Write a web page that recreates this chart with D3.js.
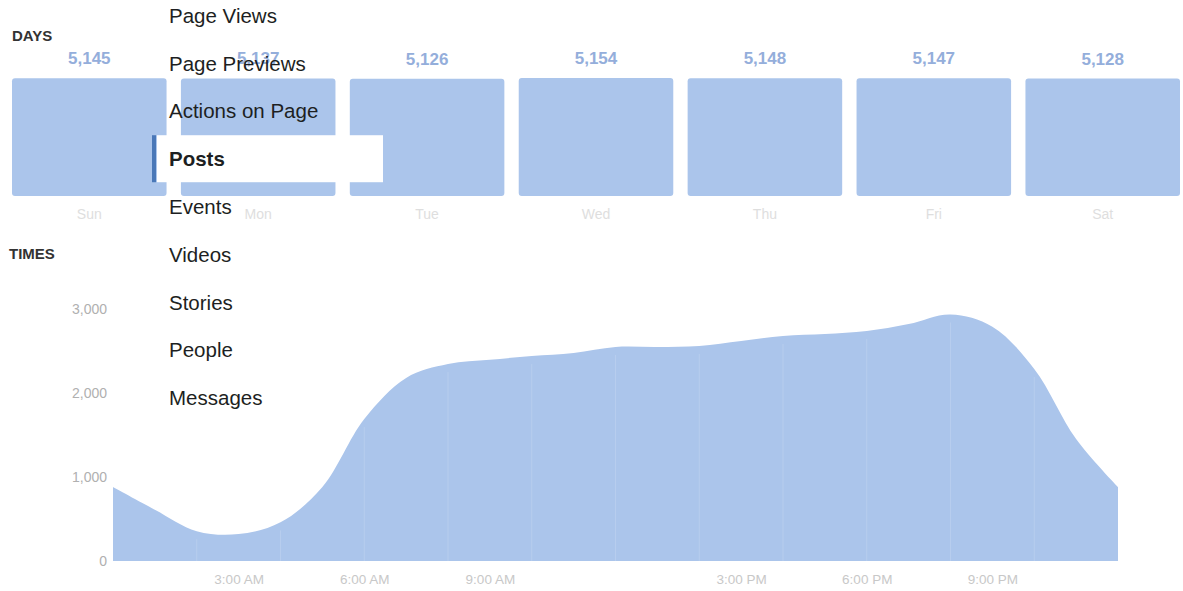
<!DOCTYPE html>
<html>
<head>
<meta charset="utf-8">
<script src="https://cdn.jsdelivr.net/npm/d3@7"></script>
<style>
  html, body { margin: 0; padding: 0; background: #fff; }
  svg { display: block; font-family: "Liberation Sans", Arial, Helvetica, sans-serif; }
</style>
</head>
<body>
<svg id="chart" width="1183" height="591"></svg>
<script>
// ---- data ----
const days = ["Sun", "Mon", "Tue", "Wed", "Thu", "Fri", "Sat"];
const dayValues = [5145, 5137, 5126, 5154, 5148, 5147, 5128];

const hours = [0,1,2,3,4,5,6,7,8,9,10,11,12,13,14,15,16,17,18,19,20,21,22,23,24];
const hourValues = [880, 610, 355, 320, 460, 880, 1690, 2180, 2345, 2395, 2440, 2476, 2548, 2548, 2560, 2619, 2679, 2702, 2738, 2821, 2935, 2790, 2286, 1452, 880];

const yTicks = [0, 1000, 2000, 3000];
const xTickHours = [3, 6, 9, 15, 18, 21];
const xTickLabels = ["3:00 AM", "6:00 AM", "9:00 AM", "3:00 PM", "6:00 PM", "9:00 PM"];

const menuItems = ["Page Views", "Page Previews", "Actions on Page", "Posts", "Events", "Videos", "Stories", "People", "Messages"];
const selectedItem = "Posts";

// ---- drawing ----
const svg = d3.select("#chart");
const barColor = "#abc5eb";
const areaColor = "#abc5eb";

// Section titles
svg.append("text").attr("x", 12).attr("y", 41).attr("font-size", 15).attr("font-weight", "bold")
  .attr("fill", "#333").text("DAYS");
svg.append("text").attr("x", 9).attr("y", 259).attr("font-size", 15).attr("font-weight", "bold")
  .attr("fill", "#333").text("TIMES");

// Days bars
const xDay = d3.scaleBand().domain(days).range([12, 1180]).paddingInner(0.085).paddingOuter(0);
const yDay = d3.scaleLinear().domain([0, d3.max(dayValues)]).range([196, 78]);

const dayG = svg.append("g");
dayG.selectAll("rect").data(days).join("rect")
  .attr("x", d => xDay(d))
  .attr("y", (d, i) => yDay(dayValues[i]))
  .attr("width", xDay.bandwidth())
  .attr("height", (d, i) => yDay(0) - yDay(dayValues[i]))
  .attr("rx", 3)
  .attr("fill", barColor);

dayG.selectAll("text.val").data(days).join("text")
  .attr("class", "val")
  .attr("x", d => xDay(d) + xDay.bandwidth() / 2)
  .attr("y", (d, i) => yDay(dayValues[i]) - 14)
  .attr("text-anchor", "middle")
  .attr("font-size", 17).attr("font-weight", "bold")
  .attr("fill", "#94aedb")
  .text((d, i) => d3.format(",")(dayValues[i]));

dayG.selectAll("text.day").data(days).join("text")
  .attr("class", "day")
  .attr("x", d => xDay(d) + xDay.bandwidth() / 2)
  .attr("y", 219)
  .attr("text-anchor", "middle")
  .attr("font-size", 14)
  .attr("fill", "#dedede")
  .text(d => d);

// Times area
const xT = d3.scaleLinear().domain([0, 24]).range([113, 1118]);
const yT = d3.scaleLinear().domain([0, 3000]).range([561, 309]);

const area = d3.area()
  .x((d, i) => xT(hours[i]))
  .y0(yT(0))
  .y1((d, i) => yT(hourValues[i]))
  .curve(d3.curveCatmullRom.alpha(0.5));

svg.append("path").datum(hourValues).attr("d", area).attr("fill", areaColor);

// faint vertical grid inside area
const gridHours = d3.range(2, 24, 2);
svg.append("g").selectAll("line").data(gridHours).join("line")
  .attr("x1", d => xT(d)).attr("x2", d => xT(d))
  .attr("y1", yT(0)).attr("y2", d => yT(hourValues[hours.indexOf(d)]) + 8)
  .attr("stroke", "#ffffff").attr("stroke-opacity", 0.15).attr("stroke-width", 1);

// y axis
const yAxis = d3.axisLeft(yT).tickValues(yTicks).tickSize(0).tickPadding(0).tickFormat(d3.format(","));
const yG = svg.append("g").attr("transform", "translate(107,0)").call(yAxis);
yG.select(".domain").remove();
yG.selectAll("text").attr("font-size", 14).attr("fill", "#b0b0b0")
  .attr("font-family", "\"Liberation Sans\", Arial, sans-serif");

// x axis
const xAxis = d3.axisBottom(xT).tickValues(xTickHours).tickSize(0).tickPadding(0)
  .tickFormat((d, i) => xTickLabels[i]);
const xG = svg.append("g").attr("transform", "translate(0,574)").call(xAxis);
xG.select(".domain").remove();
xG.selectAll("text").attr("font-size", 13.5).attr("fill", "#c8c8c8")
  .attr("font-family", "\"Liberation Sans\", Arial, sans-serif");

// Dropdown menu overlay
const menuY = d3.scaleBand().domain(menuItems).range([-8, 422]);
const menuG = svg.append("g");
menuG.append("rect")
  .attr("x", 157).attr("y", menuY(selectedItem) + menuY.bandwidth() / 2 - 24)
  .attr("width", 226).attr("height", 47).attr("fill", "#ffffff");
menuG.append("rect")
  .attr("x", 152).attr("y", menuY(selectedItem) + menuY.bandwidth() / 2 - 24)
  .attr("width", 4).attr("height", 47).attr("fill", "#4a78b8");

menuG.selectAll("text").data(menuItems).join("text")
  .attr("x", 169)
  .attr("y", d => menuY(d) + menuY.bandwidth() / 2 + 7)
  .attr("font-size", 20.5)
  .attr("font-weight", d => d === selectedItem ? "bold" : "normal")
  .attr("fill", "#1d1f22")
  .text(d => d);
</script>
</body>
</html>
